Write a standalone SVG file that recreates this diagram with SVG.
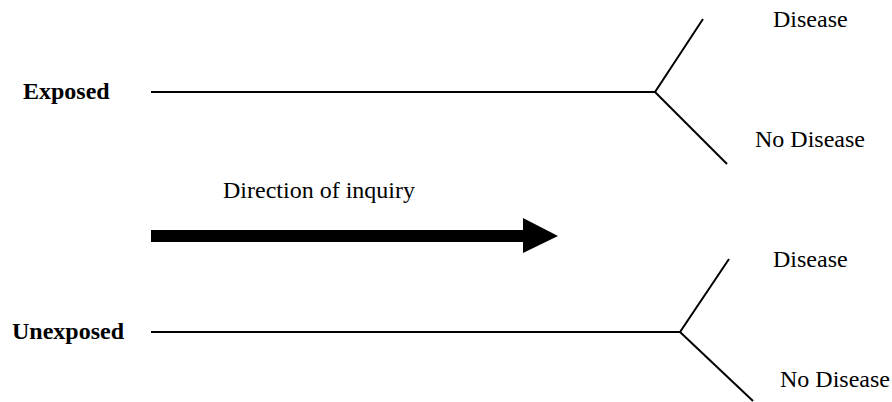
<svg xmlns="http://www.w3.org/2000/svg" width="892" height="402" viewBox="0 0 892 402">
<style>
text{font-family:"Liberation Serif","Times New Roman",serif;font-size:24px;fill:#000}
.b{font-weight:bold}
.ln{stroke:#000;stroke-width:2;fill:none;stroke-linejoin:miter}
</style>
<rect width="892" height="402" fill="#fff"/>
<g id="exposed"><text class="b" x="23" y="99">Exposed</text></g>
<g id="unexposed"><text class="b" x="12" y="339">Unexposed</text></g>
<g id="disease1"><text x="773" y="27">Disease</text></g>
<g id="nodisease1"><text x="755" y="147">No Disease</text></g>
<g id="disease2"><text x="773" y="267">Disease</text></g>
<g id="nodisease2"><text x="780" y="387">No Disease</text></g>
<g id="direction"><text x="223" y="198">Direction of inquiry</text></g>
<g id="connectors">
<polyline class="ln" points="151,92 655,92 703,19"/>
<line class="ln" x1="655" y1="92" x2="727" y2="164"/>
<polyline class="ln" points="151,332 680,332 729,259"/>
<line class="ln" x1="680" y1="332" x2="753" y2="401"/>
<polygon points="151,230 523,230 523,218 558,236 523,253 523,242 151,242" fill="#000"/>
</g>
</svg>
